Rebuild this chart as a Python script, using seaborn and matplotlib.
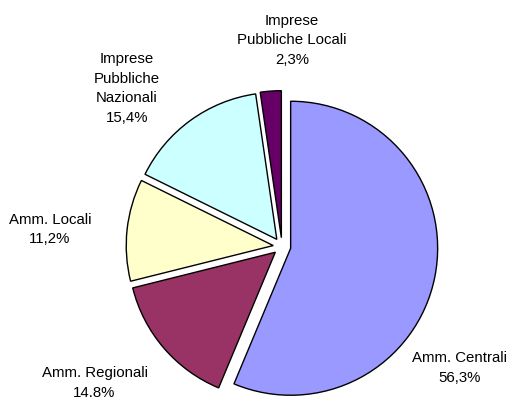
import matplotlib
matplotlib.use("Agg")
import matplotlib.pyplot as plt
import seaborn as sns

# Share of the total by institutional sector
sectors = ["Amm. Centrali", "Amm. Regionali", "Amm. Locali",
           "Imprese\nPubbliche\nNazionali", "Imprese\nPubbliche Locali"]
shares = [56.3, 14.8, 11.2, 15.4, 2.3]
share_labels = ["56,3%", "14.8%", "11,2%", "15,4%", "2,3%"]
colors = ["#9999FF", "#993366", "#FFFFCC", "#CCFFFF", "#660066"]

sns.set_theme(style="white")
plt.rcParams["font.family"] = ["Liberation Sans", "DejaVu Sans"]

W, H = 509, 399
fig = plt.figure(figsize=(W / 100, H / 100), dpi=100)
fig.patch.set_facecolor("white")
ax = fig.add_axes([0, 0, 1, 1])

ax.pie(shares, colors=colors, startangle=90, counterclock=False,
       explode=[0.06] * len(shares), radius=1.0,
       wedgeprops=dict(edgecolor="black", linewidth=1.0))

# pie centre and radius in pixels
cx, cy, r = 282.0, 246.5, 147.0
ax.set_xlim(-cx / r, (W - cx) / r)
ax.set_ylim(-(H - cy) / r, cy / r)
ax.set_aspect("auto")
ax.axis("off")

# label block centres in pixels
label_pos = [(460, 368), (94.5, 383), (50, 229.5), (127, 88.5), (292, 40)]
for name, pct, (px, py) in zip(sectors, share_labels, label_pos):
    fig.text(px / W, 1 - py / H, f"{name}\n{pct}", ha="center", va="center",
             multialignment="center", fontsize=10.8, linespacing=1.5,
             color="black")

fig.savefig("out.png", dpi=100, facecolor="white")
